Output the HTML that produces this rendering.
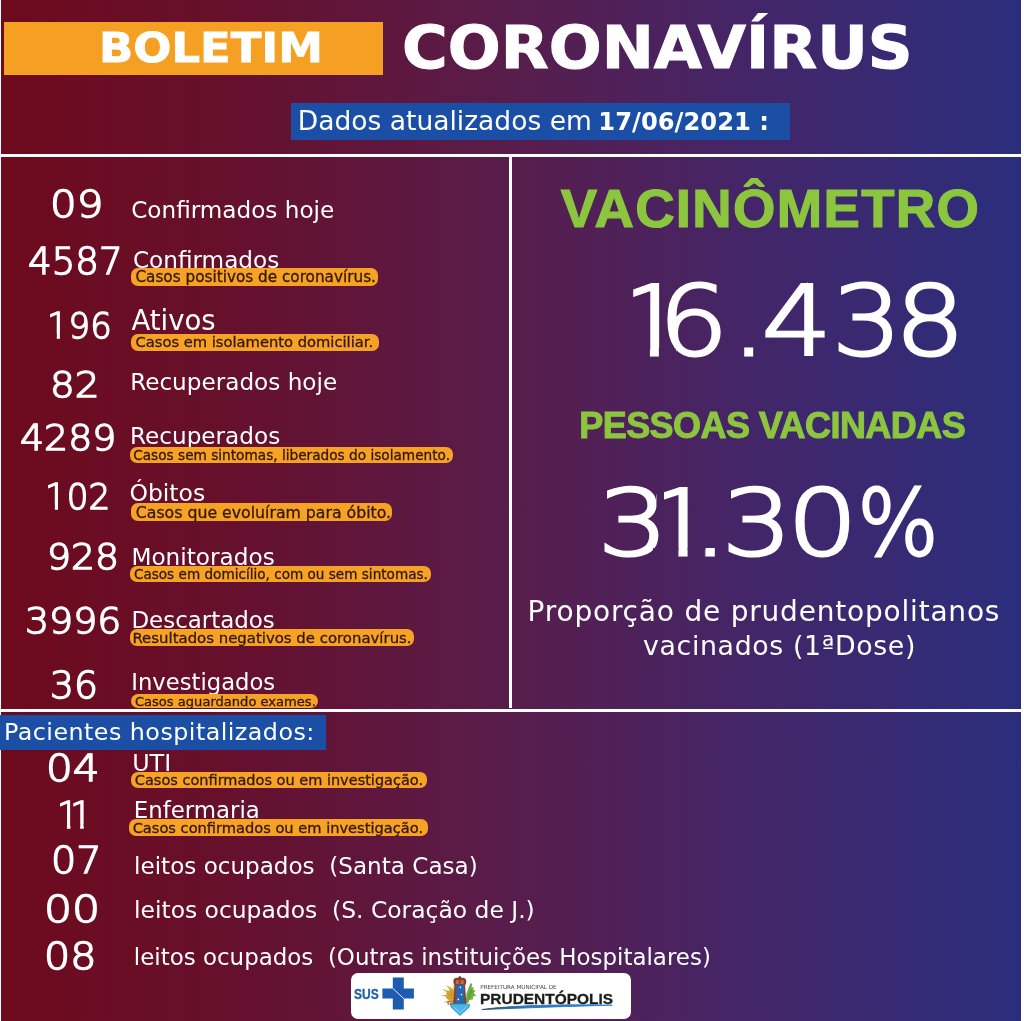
<!DOCTYPE html>
<html lang="pt-BR">
<head>
<meta charset="utf-8">
<title>Boletim Coronavírus</title>
<style>
html,body{margin:0;padding:0;}
body{width:1024px;height:1021px;overflow:hidden;background:#fff;font-family:"DejaVu Sans","Liberation Sans",sans-serif;}
#page{position:relative;width:1024px;height:1021px;overflow:hidden;
 background:linear-gradient(90deg,#6e0a1c 0%,#65112f 25%,#581d4c 50%,#42266a 75%,#2b2e7d 100%);}
.t{position:absolute;white-space:pre;line-height:1;color:#fff;font-weight:normal;transform-origin:0 0;}
.n{font-weight:200;-webkit-text-stroke:1.5px #fff;}
.p{color:#35160d;-webkit-text-stroke:.3px #35160d;}
.orange{background:#f5a023;}
.blue{background:#1b4fa5;}
b.t{font-weight:bold;}
.box{position:absolute;}
.line{position:absolute;background:#fff;}
.pill{position:absolute;background:#f6a225;border-radius:7px;}
.big{position:absolute;left:0;top:0;}
.big text{font-family:"DejaVu Sans",sans-serif;font-weight:200;fill:#fff;stroke:#fff;}
.logo{position:absolute;left:350.5px;top:973px;width:280px;height:46px;background:#fff;border-radius:7px;}
.logo svg{position:absolute;left:0;top:0;}
</style>
</head>
<body>
<div id="page">
<div class="line" style="left:0;top:0;width:1.3px;height:1021px"></div>
<div class="line" style="left:1021px;top:0;width:3px;height:1021px"></div>
<header>
<div class="box orange" style="left:3.5px;top:22px;width:379px;height:52.5px"><span class="t" style="left:95.29px;top:6.02px;font-size:41.00px;font-weight:bold;transform:scaleX(1.096);-webkit-text-stroke:0.8px #fff;">BOLETIM</span></div>
<span class="t" style="left:402.38px;top:18.02px;font-size:59.00px;font-weight:bold;transform:scaleX(1.056);-webkit-text-stroke:1.0px #fff;">CORONAVÍRUS</span>
<div class="box blue" style="left:291px;top:102.5px;width:498.5px;height:37px"><span class="t" style="left:6.81px;top:5.52px;font-size:26.53px;">Dados atualizados em</span> <b class="t" style="left:307.35px;top:7.52px;font-size:24.22px;font-weight:bold;">17/06/2021 :</b></div>
</header>
<div class="line" style="left:0;top:153.8px;width:1024px;height:2.9px"></div>
<div class="line" style="left:509px;top:155px;width:3px;height:552.5px"></div>
<section class="casos">
<div class="row"><span class="t n" style="left:49.97px;top:187.02px;font-size:36.60px;transform:scaleX(1.146);">09</span><span class="t" style="left:131.22px;top:199.02px;font-size:23.13px;">Confirmados hoje</span></div>
<div class="row"><span class="t n" style="left:27.51px;top:244.02px;font-size:36.60px;transform:scaleX(1.016);">4587</span><span class="t" style="left:132.91px;top:249.02px;font-size:23.16px;">Confirmados</span><div class="pill" style="left:131px;top:268px;width:247.20px;height:17.50px"><span class="t p" style="left:4.43px;top:2.02px;font-size:15.26px;">Casos positivos de coronavírus.</span></div></div>
<div class="row"><span class="t n" style="left:46.84px;top:308.02px;font-size:36.20px;transform:scaleX(0.937);clip-path:polygon(-5.00px -5.00px,108.60px -5.00px,108.60px 41.20px,20.27px 41.20px,20.27px 26.32px,13.80px 26.32px,13.80px 41.20px,10.44px 41.20px,10.44px 26.32px,-5.00px 26.32px);">196</span><span class="t" style="left:131.40px;top:307.02px;font-size:27.54px;">Ativos</span><div class="pill" style="left:131px;top:334.3px;width:247.50px;height:16.70px"><span class="t p" style="left:4.46px;top:0.72px;font-size:14.71px;">Casos em isolamento domiciliar.</span></div></div>
<div class="row"><span class="t n" style="left:49.70px;top:367.02px;font-size:35.80px;transform:scaleX(1.087);">82</span><span class="t" style="left:130.13px;top:371.02px;font-size:23.15px;">Recuperados hoje</span></div>
<div class="row"><span class="t n" style="left:20.28px;top:420.02px;font-size:35.80px;transform:scaleX(1.057);">4289</span><span class="t" style="left:130.03px;top:425.02px;font-size:23.15px;">Recuperados</span><div class="pill" style="left:129.6px;top:447.1px;width:323.30px;height:15.70px"><span class="t p" style="left:3.61px;top:1.92px;font-size:13.66px;">Casos sem sintomas, liberados do isolamento.</span></div></div>
<div class="row"><span class="t n" style="left:44.51px;top:479.02px;font-size:36.30px;transform:scaleX(0.941);clip-path:polygon(-5.00px -5.00px,108.90px -5.00px,108.90px 41.30px,20.33px 41.30px,20.33px 26.32px,13.84px 26.32px,13.84px 41.30px,10.47px 41.30px,10.47px 26.32px,-5.00px 26.32px);">102</span><span class="t" style="left:129.40px;top:482.02px;font-size:23.53px;">Óbitos</span><div class="pill" style="left:131px;top:502.7px;width:261.40px;height:18.10px"><span class="t p" style="left:4.81px;top:2.32px;font-size:15.74px;">Casos que evoluíram para óbito.</span></div></div>
<div class="row"><span class="t n" style="left:46.81px;top:539.02px;font-size:35.30px;transform:scaleX(1.069);">928</span><span class="t" style="left:131.42px;top:545.02px;font-size:23.20px;">Monitorados</span><div class="pill" style="left:129.6px;top:566px;width:301.40px;height:16.00px"><span class="t p" style="left:4.31px;top:2.02px;font-size:13.60px;">Casos em domicílio, com ou sem sintomas.</span></div></div>
<div class="row"><span class="t n" style="left:24.68px;top:603.02px;font-size:36.30px;transform:scaleX(1.043);">3996</span><span class="t" style="left:131.45px;top:609.02px;font-size:22.93px;">Descartados</span><div class="pill" style="left:130.25px;top:629.4px;width:283.75px;height:16.60px"><span class="t p" style="left:2.20px;top:1.62px;font-size:14.92px;">Resultados negativos de coronavírus.</span></div></div>
<div class="row"><span class="t n" style="left:50.20px;top:668.02px;font-size:36.70px;transform:scaleX(1.026);">36</span><span class="t" style="left:131.27px;top:671.02px;font-size:22.70px;">Investigados</span><div class="pill" style="left:131px;top:694.2px;width:187.20px;height:13.60px"><span class="t p" style="left:3.94px;top:0.82px;font-size:13.07px;">Casos aguardando exames.</span></div></div>
</section>
<section class="vacina">
<span class="t" style="left:560.80px;top:182.02px;font-size:54.50px;letter-spacing:1.34px;font-weight:bold;font-family:'Liberation Sans',sans-serif;color:#8cc63f;-webkit-text-stroke:1.2px #8cc63f;">VACINÔMETRO</span>
<svg class="big" width="1024" height="1021" viewBox="0 0 1024 1021"><defs><mask id="noserif" maskUnits="userSpaceOnUse" x="0" y="0" width="1024" height="1021"><rect width="1024" height="1021" fill="#fff"/><g fill="#000"><rect x="624.5" y="347.8" width="25.4" height="10.1"/><polygon points="658.9,347.8 674.1,347.8 677.3,352.0 677.3,357.8 658.9,357.8"/><rect x="621.2" y="279.5" width="12.0" height="24.2"/><rect x="653.0" y="548.1" width="25.4" height="9.8"/><rect x="687.6" y="548.1" width="17.3" height="9.8"/><rect x="656.8" y="483.4" width="7.2" height="22.9"/></g></mask></defs><g mask="url(#noserif)"><text transform="scale(1.137,1)" x="543.5 579.2 643.2 670.0 731.7 787.1" y="354.8" font-size="96.7" stroke-width="3.0">16.438</text><text transform="scale(1.205,1)" x="496.2 536.4 574.9 599.1 653.6 711.7" y="554.9" font-size="91.5" stroke-width="3.0">31.30<tspan textLength="67.2" lengthAdjust="spacingAndGlyphs">%</tspan></text></g></svg>
<span class="t" style="left:579.25px;top:408.02px;font-size:36.00px;letter-spacing:-0.56px;font-weight:bold;font-family:'Liberation Sans',sans-serif;color:#8cc63f;-webkit-text-stroke:1.0px #8cc63f;">PESSOAS VACINADAS</span>
<span class="t" style="left:527.58px;top:598.02px;font-size:28.00px;letter-spacing:0.80px;">Proporção de prudentopolitanos</span>
<span class="t" style="left:643.08px;top:633.02px;font-size:26.80px;letter-spacing:0.62px;">vacinados (1ªDose)</span>
</section>
<div class="line" style="left:0;top:708.8px;width:1024px;height:3px"></div>
<section class="hosp">
<div class="box blue" style="left:0px;top:715px;width:325.8px;height:34.6px"><span class="t" style="left:4.02px;top:6.02px;font-size:23.80px;letter-spacing:0.46px;">Pacientes hospitalizados:</span></div>
<div class="row"><span class="t n" style="left:45.76px;top:751.02px;font-size:36.50px;transform:scaleX(1.154);">04</span><span class="t" style="left:132.14px;top:752.02px;font-size:23.85px;">UTI</span><div class="pill" style="left:131px;top:772px;width:295.90px;height:16.00px"><span class="t p" style="left:3.87px;top:1.02px;font-size:14.51px;">Casos confirmados ou em investigação.</span></div></div>
<div class="row"><span class="t n" style="left:56.42px;top:798.02px;font-size:36.5px;letter-spacing:-9.94px;clip-path:polygon(3.61px -5.00px,46.55px -5.00px,46.55px 26.31px,27.18px 26.31px,27.18px 41.50px,23.81px 41.50px,23.81px 26.31px,16.88px 26.31px,16.88px -4.00px,13.91px -4.00px,13.91px 41.50px,10.53px 41.50px,10.53px 26.31px,3.61px 26.31px);">11</span><span class="t" style="left:133.86px;top:799.02px;font-size:22.85px;">Enfermaria</span><div class="pill" style="left:129.2px;top:819.2px;width:299.10px;height:16.60px"><span class="t p" style="left:3.46px;top:1.82px;font-size:14.62px;">Casos confirmados ou em investigação.</span></div></div>
<div class="row"><span class="t n" style="left:50.64px;top:842.02px;font-size:37.00px;transform:scaleX(1.074);">07</span><span class="t" style="left:134.09px;top:855.02px;font-size:23.08px;">leitos ocupados  (Santa Casa)</span></div>
<div class="row"><span class="t n" style="left:43.70px;top:892.02px;font-size:36.70px;transform:scaleX(1.203);">00</span><span class="t" style="left:134.06px;top:899.02px;font-size:23.41px;">leitos ocupados  (S. Coração de J.)</span></div>
<div class="row"><span class="t n" style="left:43.93px;top:939.02px;font-size:36.70px;transform:scaleX(1.122);">08</span><span class="t" style="left:133.85px;top:946.02px;font-size:22.95px;">leitos ocupados  (Outras instituições Hospitalares)</span></div>
</section>
<footer class="logo">
<svg width="280" height="46" viewBox="350.5 973 280 46">
<!-- SUS cross -->
<path d="M392.3 977.5h11v10.9h10.1v10.2h-10.1v10.9h-11v-10.9h-10.4v-10.2h10.4z" fill="#1d5cb0"/>
<path d="M392.3 988.4l11 10.2" stroke="#fff" stroke-width="0.9" fill="none"/>
<!-- coat of arms -->
<g>
<path d="M455 998l-15-2.2 9.5-1.6-8.3-5.2 9.6 2.6-5.2-6.6 8 4.6-1.6-5.4 4.6 6.2z" fill="#dba52c"/>
<path d="M455 999l-12.5 3.2 10-.2-6.6 3.6 9.4-1.8z" fill="#c4842a"/>
<ellipse cx="450.4" cy="995.6" rx="4.6" ry="5.4" fill="#d9a22c" opacity=".85"/>
<path d="M446 992.500l6 5M445.500 997.500l7 1.500M449 989.500l3.500 6" stroke="#b47a24" stroke-width=".7" fill="none"/>
<path d="M446.5 1003.8l1.2-3.4.9 3.2zM449.4 1004.6l1-3.6 1 3.4z" fill="#9a4a3a"/>
<path d="M465 1003.4l1-9.6 2-6 2.2-4.9 1.5 1.2-.6 3.6 2-1-.4 3.4 2.4.4-2 2.8 2.6 2.2-3.4 1.2.2 2.6-3.6.6-1.3 3.3z" fill="#6fae3c"/>
<path d="M468.2 999.5l1.1-5.2 1.8-4.4" stroke="#4c8a2c" stroke-width=".7" fill="none"/>
<path d="M452.8 981.2c0-2.6 2.4-3.9 4.4-3.2.6-1 1.2-1.6 2.1-1.6s1.5.6 2.1 1.6c2-.7 4.4.6 4.4 3.2 0 1.5-.6 2.8-1.2 4.2l1.3 18.8h-13.2l1.3-18.8c-.6-1.400-1.200-2.700-1.200-4.200z" fill="#8d3c2b"/>
<path d="M455.6 980.400c.9-.6 2.100-.6 3 .1v3.500h-3.400zM460 980.500c.9-.7 2.100-.7 3-.1l.4 3.600h-3.400z" fill="#c06a4a"/>
<circle cx="459.300" cy="977.300" r="1" fill="#4a4a32"/>
<path d="M455.500 984.800h8.200l.5 19.400h-9.200z" fill="#2968ab"/>
<circle cx="459.900" cy="987.300" r=".85" fill="#fff"/><circle cx="461" cy="994.500" r=".85" fill="#fff"/><circle cx="457.800" cy="999.400" r=".85" fill="#fff"/>
<path d="M450.200 1004.200h18.800l-.4 3-9 8.300-9-8.300z" fill="#4ab6e8" stroke="#2b92c6" stroke-width=".8" stroke-linejoin="round"/>
<path d="M453 1006.800l6.600 6 6.500-6" stroke="#8fd6f4" stroke-width=".8" fill="none"/>
</g>
<!-- swoosh -->
<defs><linearGradient id="sw" x1="0" x2="1" y1="0" y2="0"><stop offset="0" stop-color="#3a4f66"/><stop offset=".35" stop-color="#2873bd"/><stop offset="1" stop-color="#2e86d0"/></linearGradient></defs>
<path d="M481.300 1009.600C510 1005.400 560 1004.200 611.600 1005.200 570 1006.200 520 1008 481.300 1009.600z" fill="url(#sw)" stroke="url(#sw)" stroke-width=".9" stroke-linejoin="round"/>
</svg>
<span class="t" style="left:3.21px;top:14.02px;font-size:14.60px;font-weight:bold;font-family:'Liberation Sans',sans-serif;color:#1f5fa8;transform:scaleX(0.825);-webkit-text-stroke:0.3px #1f5fa8;">SUS</span><span class="t" style="left:129.77px;top:12.02px;font-size:5.64px;color:#444;">PREFEITURA MUNICIPAL DE</span><span class="t" style="left:129.48px;top:19.02px;font-size:14.40px;font-weight:bold;font-family:'Liberation Sans',sans-serif;color:#1d1d1b;transform:scaleX(1.074);-webkit-text-stroke:0.3px #1d1d1b;">PRUDENTÓPOLIS</span>
</footer>
</div>
</body>
</html>
